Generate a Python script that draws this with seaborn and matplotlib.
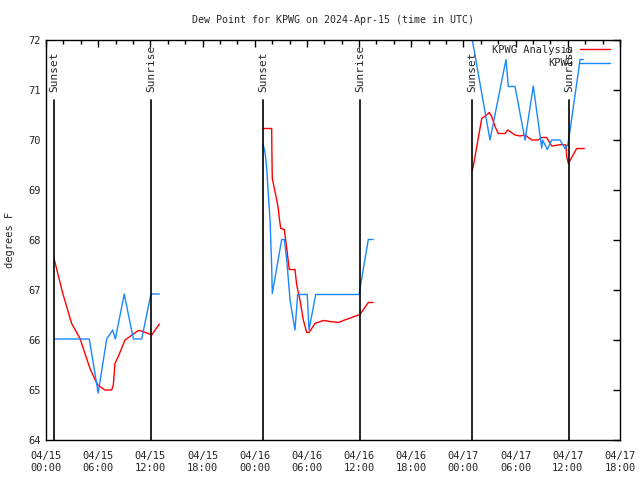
import matplotlib
matplotlib.use('Agg')
import numpy as np
import pandas as pd
import matplotlib.pyplot as plt
import seaborn as sns

# hours since 2024-04-15 00:00 UTC
ana_hours_1 = [0.95, 1.9, 2.95, 3.91, 4.48, 5.06, 5.63, 6.01, 6.78, 7.55, 7.74, 7.93, 8.31, 9.08, 9.66, 10.61, 11.0, 12.15, 13.03]
ana_vals_1 = [67.61, 66.95, 66.33, 66.03, 65.73, 65.43, 65.21, 65.09, 65.0, 65.0, 65.1, 65.53, 65.67, 66.0, 66.07, 66.19, 66.18, 66.1, 66.32]
ana_hours_2 = [24.99, 25.95, 25.97, 26.02, 26.45, 26.71, 26.83, 26.99, 27.4, 27.56, 27.79, 27.97, 28.63, 28.83, 29.2, 29.59, 29.98, 30.24, 30.93, 31.88, 32.66, 33.61, 34.18, 35.15, 36.1, 37.06, 37.63]
ana_vals_2 = [70.23, 70.23, 69.8, 69.23, 68.87, 68.63, 68.43, 68.23, 68.21, 68.0, 67.67, 67.41, 67.41, 67.1, 66.8, 66.4, 66.15, 66.15, 66.33, 66.39, 66.37, 66.35, 66.39, 66.45, 66.51, 66.75, 66.75]
ana_hours_3 = [49.02, 49.13, 50.1, 50.67, 50.97, 51.25, 51.63, 52.0, 52.78, 53.09, 53.93, 54.5, 55.08, 55.85, 56.6, 57.0, 57.57, 58.15, 59.3, 59.79, 59.87, 60.06, 61.02, 61.9]
ana_vals_3 = [69.4, 69.47, 70.43, 70.5, 70.55, 70.47, 70.27, 70.13, 70.13, 70.2, 70.1, 70.08, 70.1, 70.0, 70.0, 70.05, 70.05, 69.88, 69.91, 69.9, 69.67, 69.53, 69.83, 69.83]

obs_hours_1 = [0.95, 4.98, 6.0, 6.98, 7.67, 7.97, 9.0, 10.04, 11.0, 12.07, 13.03]
obs_vals_1 = [66.02, 66.02, 64.94, 66.02, 66.2, 66.02, 66.92, 66.02, 66.02, 66.92, 66.92]
obs_hours_2 = [24.99, 25.2, 25.38, 25.56, 25.76, 25.95, 26.02, 27.1, 27.4, 27.68, 28.06, 28.63, 28.94, 30.04, 30.24, 31.01, 35.99, 37.06, 37.63]
obs_vals_2 = [69.9, 69.73, 69.43, 68.93, 68.4, 67.47, 66.93, 68.01, 68.01, 67.6, 66.8, 66.2, 66.91, 66.91, 66.2, 66.91, 66.91, 68.01, 68.01]
obs_hours_3 = [49.02, 51.05, 52.89, 53.16, 53.93, 55.08, 56.03, 57.0, 57.1, 57.64, 58.15, 59.1, 59.68, 59.99, 60.26, 61.41, 61.78]
obs_vals_3 = [72.0, 70.0, 71.61, 71.07, 71.07, 70.0, 71.08, 69.84, 70.0, 69.81, 70.0, 70.0, 69.83, 69.9, 70.2, 71.61, 71.61]

sunset_hours = [0.95, 24.99, 49.02]
sunrise_hours = [12.07, 36.1, 60.17]


def build_frame(hours, vals, name):
	frames = []
	for i, (h, v) in enumerate(zip(hours, vals)):
		frames.append(pd.DataFrame({'hour': h, 'dewp': v, 'series': name, 'seg': f'{name}-{i}'}))
	return pd.concat(frames)


df = pd.concat([
	build_frame([ana_hours_1, ana_hours_2, ana_hours_3], [ana_vals_1, ana_vals_2, ana_vals_3], 'KPWG Analysis'),
	build_frame([obs_hours_1, obs_hours_2, obs_hours_3], [obs_vals_1, obs_vals_2, obs_vals_3], 'KPWG'),
])

sns.set_style('white')
plt.rcParams['font.family'] = ['DejaVu Sans Mono']
plt.rcParams['font.size'] = 7.5

fig = plt.figure(figsize=(6.4, 4.8), dpi=100)
ax = fig.add_axes([46 / 640, 40 / 480, 574 / 640, 400 / 480])

sns.lineplot(data=df, x='hour', y='dewp', hue='series', units='seg', estimator=None,
			 hue_order=['KPWG Analysis', 'KPWG'],
			 palette={'KPWG Analysis': '#ff0000', 'KPWG': '#1888ff'},
			 sort=False, lw=1.0, ax=ax)

# sun lines with their labels above
for h in sunset_hours:
	ax.plot([h, h], [64, 70.8], color='black', lw=1.2)
	ax.text(h, 70.96, 'Sunset', rotation=90, ha='center', va='bottom', fontsize=8)
for h in sunrise_hours:
	ax.plot([h, h], [64, 70.8], color='black', lw=1.2)
	ax.text(h, 70.96, 'Sunrise', rotation=90, ha='center', va='bottom', fontsize=8)

ax.set_xlim(0, 66)
ax.set_ylim(64, 72)
xt = list(range(0, 67, 6))
ax.set_xticks(xt)
ax.set_xticklabels([f'04/{15 + h // 24}\n{h % 24:02d}:00' for h in xt])
ax.set_xticks(list(range(0, 67, 2)), minor=True)
ax.set_yticks(range(64, 73))
ax.tick_params(which='both', direction='in', top=True, right=True, color='black')
ax.tick_params(which='major', length=5, width=1)
ax.tick_params(which='minor', length=3, width=1)
ax.tick_params(axis='x', which='major', pad=8)
ax.tick_params(axis='y', which='major', pad=4)
for s in ax.spines.values():
	s.set_color('black')
	s.set_linewidth(1)

ax.set_xlabel('')
ax.set_ylabel('degrees F', labelpad=9, fontsize=7.5)
ax.set_title('Dew Point for KPWG on 2024-Apr-15 (time in UTC)', pad=12, fontsize=7.2)

handles, labels = ax.get_legend_handles_labels()
ax.legend(handles, labels, loc='upper right', bbox_to_anchor=(0.988, 0.995), frameon=False,
		  markerfirst=False, handlelength=2.9, borderaxespad=0, borderpad=0.3,
		  labelspacing=0.3, handletextpad=0.6)

fig.savefig('out.png', dpi=100)
